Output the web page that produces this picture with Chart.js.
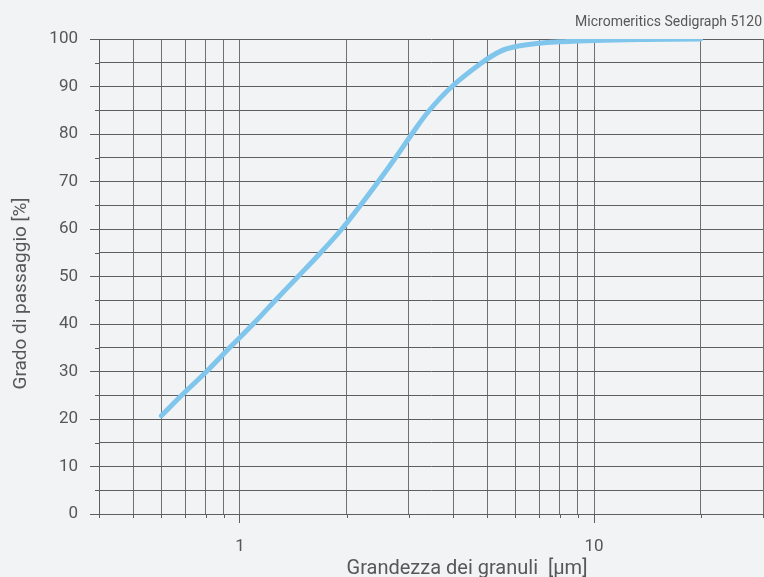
<!DOCTYPE html>
<html>
<head>
<meta charset="utf-8">
<script src="https://cdn.jsdelivr.net/npm/chart.js@4"></script>
<style>
  html, body { margin: 0; padding: 0; background: #f2f3f5; }
  #wrap { width: 764px; height: 577px; position: relative; }
</style>
</head>
<body>
<div id="wrap"><canvas id="sedChart"></canvas></div>
<script>
// grain size in µm and cumulative % passing
const grainSizes = [0.6, 0.685, 0.805, 0.935, 1.09, 1.26, 1.46, 1.69, 1.94, 2.19, 2.46, 2.75, 3.06, 3.43, 3.97, 4.82, 5.47, 6, 7, 8, 10, 14, 20];
const passing = [20.7, 25, 30, 35, 40, 45, 50, 55, 60, 65, 70, 75, 80, 85, 90, 95, 97.5, 98.4, 99.1, 99.4, 99.7, 99.9, 100];
const xGridValues = [0.4, 0.5, 0.6, 0.7, 0.8, 0.9, 1, 2, 3, 4, 5, 6, 7, 8, 9, 10, 20, 30];
const xLabelValues = [1, 10];
const instrumentLabel = 'Micromeritics Sedigraph 5120';
const xTitle = 'Grandezza dei granuli  [µm]';
const yTitle = 'Grado di passaggio [%]';

const textColor = '#575757';
const gridColor = '#5e5e5e';
const fontFamily = "Roboto, 'Noto Sans', sans-serif";

// short stubs for the minor grid lines (5, 15, ... and 0.5, 0.6, ...)
const minorTickPlugin = {
  id: 'minorTicks',
  afterDraw(chart) {
    const { ctx, chartArea, scales } = chart;
    ctx.save();
    ctx.strokeStyle = gridColor;
    ctx.lineWidth = 1;
    ctx.beginPath();
    scales.y.ticks.forEach(t => {
      if (t.value % 10 === 0) return;
      const py = Math.round(scales.y.getPixelForValue(t.value)) + 0.5;
      ctx.moveTo(chartArea.left - 4, py);
      ctx.lineTo(chartArea.left, py);
    });
    scales.x.ticks.forEach(t => {
      if (xLabelValues.includes(t.value)) return;
      const px = Math.round(scales.x.getPixelForValue(t.value)) + 0.5;
      ctx.moveTo(px, chartArea.bottom);
      ctx.lineTo(px, chartArea.bottom + 4);
    });
    ctx.stroke();
    ctx.restore();
  }
};

const textPlugin = {
  id: 'chartTexts',
  afterDraw(chart) {
    const { ctx, chartArea, width } = chart;
    ctx.save();
    ctx.fillStyle = textColor;
    ctx.font = `14px ${fontFamily}`;
    ctx.textAlign = 'right';
    ctx.textBaseline = 'alphabetic';
    ctx.fillText(instrumentLabel, width - 2, 26);

    ctx.font = `20px ${fontFamily}`;
    ctx.textAlign = 'center';
    ctx.fillText(xTitle, (chartArea.left + chartArea.right) / 2 + 36, chartArea.bottom + 60);

    ctx.translate(26, (chartArea.top + chartArea.bottom) / 2 + 17);
    ctx.rotate(-Math.PI / 2);
    ctx.font = `19px ${fontFamily}`;
    ctx.fillText(yTitle, 0, 0);
    ctx.restore();
  }
};

new Chart(document.getElementById('sedChart'), {
  type: 'line',
  data: {
    datasets: [{
      label: 'Sedigraph',
      data: grainSizes.map((x, i) => ({ x, y: passing[i] })),
      borderColor: '#80c6ec',
      borderWidth: 5,
      borderCapStyle: 'round',
      borderJoinStyle: 'round',
      pointRadius: 0,
      tension: 0.4,
      fill: false
    }]
  },
  options: {
    responsive: true,
    maintainAspectRatio: false,
    animation: false,
    layout: { padding: { top: 39, right: 1, left: 0, bottom: 0 } },
    plugins: {
      legend: { display: false },
      tooltip: { enabled: false }
    },
    scales: {
      x: {
        type: 'logarithmic',
        min: 0.4,
        max: 30,
        afterBuildTicks: (scale) => { scale.ticks = xGridValues.map(value => ({ value })); },
        afterFit: (scale) => { scale.height = 63; scale.paddingLeft = 0; scale.paddingRight = 0; },
        grid: { color: '#707070', lineWidth: 1, tickLength: 9,
          tickColor: (c) => xLabelValues.includes(c.tick && c.tick.value) ? gridColor : 'rgba(0,0,0,0)' },
        border: { color: gridColor },
        ticks: {
          autoSkip: false,
          maxRotation: 0,
          padding: 14,
          color: textColor,
          font: { family: fontFamily, size: 17 },
          callback: (v) => xLabelValues.includes(v) ? String(v) : ''
        }
      },
      y: {
        min: 0,
        max: 100,
        afterFit: (scale) => { scale.width = 99; },
        grid: { color: gridColor, lineWidth: 1, tickLength: 9,
          tickColor: (c) => (c.tick && c.tick.value % 10 === 0) ? gridColor : 'rgba(0,0,0,0)' },
        border: { color: gridColor },
        ticks: {
          stepSize: 5,
          padding: 12,
          color: textColor,
          font: { family: fontFamily, size: 17 },
          callback: (v) => v % 10 === 0 ? String(v) : ''
        }
      }
    }
  },
  plugins: [minorTickPlugin, textPlugin]
});
</script>
</body>
</html>
